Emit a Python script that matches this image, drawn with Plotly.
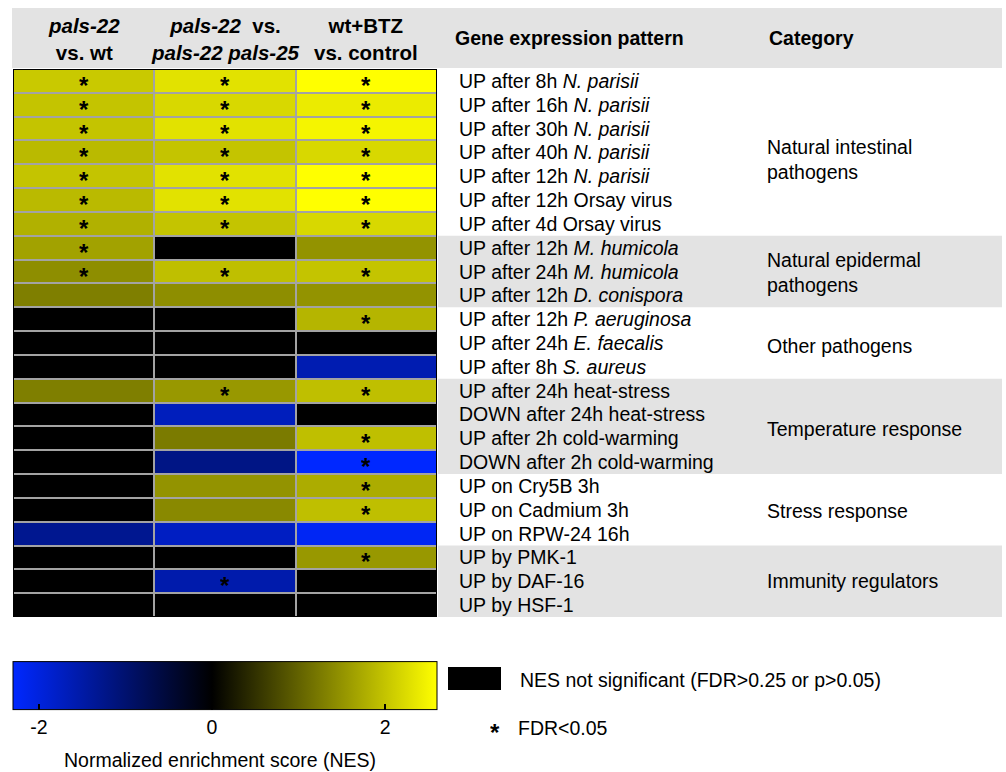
import plotly.graph_objects as go

W, H = 1006, 772
FONT = "Liberation Sans, Arial, sans-serif"

# ---------------- data ----------------
comparisons = ["<b><i>pals-22</i><br>vs. wt</b>",
               "<b><i>pals-22</i>  vs.<br><i>pals-22 pals-25</i></b>",
               "<b>wt+BTZ<br>vs. control</b>"]

patterns = [
    "UP after 8h <i>N. parisii</i>",
    "UP after 16h <i>N. parisii</i>",
    "UP after 30h <i>N. parisii</i>",
    "UP after 40h <i>N. parisii</i>",
    "UP after 12h <i>N. parisii</i>",
    "UP after 12h Orsay virus",
    "UP after 4d Orsay virus",
    "UP after 12h <i>M. humicola</i>",
    "UP after 24h <i>M. humicola</i>",
    "UP after 12h <i>D. conispora</i>",
    "UP after 12h <i>P. aeruginosa</i>",
    "UP after 24h <i>E. faecalis</i>",
    "UP after 8h <i>S. aureus</i>",
    "UP after 24h heat-stress",
    "DOWN after 24h heat-stress",
    "UP after 2h cold-warming",
    "DOWN after 2h cold-warming",
    "UP on Cry5B 3h",
    "UP on Cadmium 3h",
    "UP on RPW-24 16h",
    "UP by PMK-1",
    "UP by DAF-16",
    "UP by HSF-1",
]

category_names = ["Natural intestinal<br>pathogens", "Natural epidermal<br>pathogens",
                  "Other pathogens", "Temperature response", "Stress response",
                  "Immunity regulators"]
category_sizes = [7, 3, 3, 4, 3, 3]
category_shaded = [False, True, False, True, False, True]

# NES values (None = not significant)
nes_pals22_vs_wt = [2.05, 2.0, 2.0, 1.9, 2.0, 1.9, 1.8, 1.65, 1.45, 1.3,
                    None, None, None, 1.3, None, None, None, None, None, -1.3,
                    None, None, None]
nes_pals22_vs_pals25 = [2.3, 2.2, 2.3, 2.0, 2.3, 2.3, 2.0, None, 1.95, 1.45,
                        None, None, None, 1.55, -1.7, 1.25, -1.2, 1.5, 1.4, -1.75,
                        None, -1.55, None]
nes_btz_vs_control = [2.6, 2.4, 2.5, 2.2, 2.6, 2.6, 2.2, 1.5, 2.0, 1.5,
                      1.85, None, -1.6, 1.95, None, 1.95, -2.3, 1.75, 1.95, -2.2,
                      1.55, None, None]

# FDR<0.05 flags
fdr_pals22_vs_wt = [1, 1, 1, 1, 1, 1, 1, 1, 1, 0, 0, 0, 0, 0, 0, 0, 0, 0, 0, 0, 0, 0, 0]
fdr_pals22_vs_pals25 = [1, 1, 1, 1, 1, 1, 1, 0, 1, 0, 0, 0, 0, 1, 0, 0, 0, 0, 0, 0, 0, 1, 0]
fdr_btz_vs_control = [1, 1, 1, 1, 1, 1, 1, 0, 1, 0, 1, 0, 0, 1, 0, 1, 1, 1, 1, 0, 1, 0, 0]

cb_ticks = [-2, 0, 2]
ZMIN, ZMAX = -2.3, 2.6

# ---------------- helpers ----------------
def px(x):
    return x / W

def py(y):
    return 1 - y / H

TXT = 19.5
cols = [nes_pals22_vs_wt, nes_pals22_vs_pals25, nes_btz_vs_control]
fdrs = [fdr_pals22_vs_wt, fdr_pals22_vs_pals25, fdr_btz_vs_control]
n_rows = len(patterns)
xs = list(range(len(cols)))
ys = list(range(n_rows))

z = [[cols[c][r] for c in xs] for r in ys]
ns_mask = [[1 if cols[c][r] is None else None for c in xs] for r in ys]

mid = (0 - ZMIN) / (ZMAX - ZMIN)
colorscale = [[0, "rgb(0,40,255)"], [mid, "rgb(0,0,0)"], [1, "rgb(255,255,0)"]]

fig = go.Figure()

fig.add_trace(go.Heatmap(
    z=z, x=xs, y=ys, zmin=ZMIN, zmax=ZMAX, colorscale=colorscale,
    xgap=2, ygap=2, hoverongaps=False,
    colorbar=dict(orientation="h", x=px(225), xanchor="center",
                  y=py(745), yanchor="bottom", yref="paper",
                  len=424, lenmode="pixels", thickness=48, thicknessmode="pixels",
                  xpad=0, ypad=0, outlinewidth=1, outlinecolor="black",
                  tickvals=cb_ticks, ticktext=[str(t) for t in cb_ticks],
                  ticks="inside", ticklen=6, tickcolor="black", tickwidth=2,
                  tickfont=dict(size=TXT, color="black", family=FONT)),
))
fig.add_trace(go.Heatmap(
    z=ns_mask, x=xs, y=ys, zmin=0, zmax=1,
    colorscale=[[0, "black"], [1, "black"]], showscale=False,
    xgap=2, ygap=2, hoverongaps=False,
))

fig.update_layout(
    width=W, height=H,
    margin=dict(l=0, r=0, t=0, b=0, autoexpand=False),
    paper_bgcolor="white", plot_bgcolor="#a3a3a3",
    showlegend=False,
    font=dict(family=FONT, color="black", size=TXT),
    xaxis=dict(domain=[px(13), px(437)], range=[-0.5, 2.5], visible=False, fixedrange=True),
    yaxis=dict(domain=[py(617), py(69)], range=[n_rows - 0.5, -0.5], visible=False, fixedrange=True),
)

shapes = []
# header band
shapes.append(dict(type="rect", xref="paper", yref="paper", x0=px(12), x1=px(1002),
                   y0=py(68), y1=py(8), fillcolor="#e3e3e3", line=dict(width=0), layer="below"))
# category bands
start = 0
for name, size, shaded in zip(category_names, category_sizes, category_shaded):
    if shaded:
        shapes.append(dict(type="rect", xref="paper", yref="y", x0=px(438), x1=px(1002),
                           y0=start - 0.5, y1=start + size - 0.5,
                           fillcolor="#e3e3e3", line=dict(width=0), layer="below"))
    start += size
# heatmap border
shapes.append(dict(type="rect", xref="x", yref="y", x0=-0.5, x1=2.5, y0=-0.5, y1=n_rows - 0.5,
                   line=dict(color="black", width=2), fillcolor="rgba(0,0,0,0)"))
# legend black box
shapes.append(dict(type="rect", xref="paper", yref="paper", x0=px(448), x1=px(501),
                   y0=py(690), y1=py(667), fillcolor="black", line=dict(width=0)))
fig.update_layout(shapes=shapes)

ann = []
# asterisks for FDR<0.05 (clipped text box keeps them inside their own row)
for c in xs:
    for r in ys:
        if fdrs[c][r]:
            ann.append(dict(x=c, y=r, xref="x", yref="y", text="<b>*</b>", showarrow=False,
                            xanchor="center", yanchor="middle", height=18, valign="top",
                            yshift=0, font=dict(size=24, color="black")))
for c, label in enumerate(comparisons):
    ann.append(dict(x=c, xref="x", y=py(39), yref="paper", text=label, showarrow=False,
                    xanchor="center", yanchor="middle", font=dict(size=20.5)))
ann.append(dict(x=px(453), y=py(38), xref="paper", yref="paper",
                text="<b>Gene expression pattern</b>", showarrow=False,
                xanchor="left", yanchor="middle", font=dict(size=TXT)))
ann.append(dict(x=px(767), y=py(38), xref="paper", yref="paper",
                text="<b>Category</b>", showarrow=False,
                xanchor="left", yanchor="middle", font=dict(size=TXT)))
for r, label in enumerate(patterns):
    ann.append(dict(x=px(457), xref="paper", y=r, yref="y", text=label, showarrow=False,
                    xanchor="left", yanchor="middle", font=dict(size=TXT)))
cat_shift_px = [-7, -1, -3, -3, -1, 0]
start = 0
for name, size, sh in zip(category_names, category_sizes, cat_shift_px):
    ann.append(dict(x=px(765), xref="paper", y=start + (size - 1) / 2, yref="y",
                    text=name, showarrow=False, xanchor="left", yanchor="middle",
                    align="left", yshift=sh, font=dict(size=TXT)))
    start += size
# colorbar title
ann.append(dict(x=px(220), y=py(760), xref="paper", yref="paper",
                text="Normalized enrichment score (NES)", showarrow=False,
                xanchor="center", yanchor="middle", font=dict(size=TXT)))
# legend texts
ann.append(dict(x=px(518), y=py(680), xref="paper", yref="paper",
                text="NES not significant (FDR>0.25 or p>0.05)", showarrow=False,
                xanchor="left", yanchor="middle", font=dict(size=TXT)))
ann.append(dict(x=px(495), y=py(728), xref="paper", yref="paper",
                text="<b>*</b>", showarrow=False,
                xanchor="center", yanchor="middle", height=18, valign="top",
                yshift=0, font=dict(size=24)))
ann.append(dict(x=px(516), y=py(728), xref="paper", yref="paper",
                text="FDR<0.05", showarrow=False,
                xanchor="left", yanchor="middle", font=dict(size=TXT)))
fig.update_layout(annotations=ann)

fig.write_html("out.html", config={"displayModeBar": False},
               post_script="document.body.style.margin='0';")
